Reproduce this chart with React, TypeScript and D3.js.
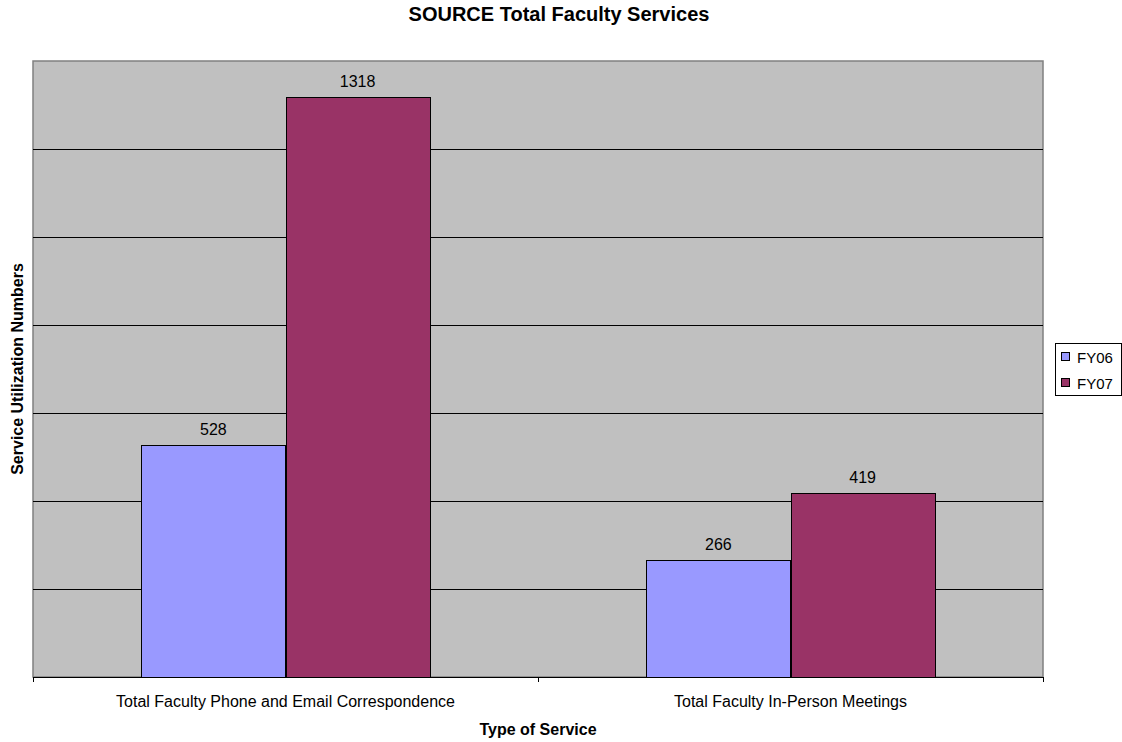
import React from "react";
import * as d3 from "d3";

const categories = ["Total Faculty Phone and Email Correspondence", "Total Faculty In-Person Meetings"];
const seriesNames = ["FY06", "FY07"];
const fy06 = [528, 266];
const fy07 = [1318, 419];
const yTicks = [0, 200, 400, 600, 800, 1000, 1200, 1400];
const colors = ["#9999FF", "#993366"];

const W = 1122, H = 742;
const left = 33, right = 1043, top = 61, bottom = 677;
const font = "Liberation Sans, Arial, sans-serif";

export default function App() {
  const x0 = d3.scaleBand<string>().domain(categories).range([left, right]).padding(0);
  const step = x0.bandwidth();
  const gap = step * 0.2145;
  const x1 = d3.scaleBand<string>().domain(seriesNames).range([gap, step - gap]).padding(0);
  const y = d3.scaleLinear().domain([0, 1400]).range([bottom, top]);
  const values = [fy06, fy07];
  return (
    <svg width={W} height={H} style={{ position: "absolute", left: 0, top: 0 }} fontFamily={font}>
      <rect x={0} y={0} width={W} height={H} fill="#fff" />
      <text x={559} y={21} textAnchor="middle" fontSize={20} fontWeight="bold">SOURCE Total Faculty Services</text>
      <rect x={left} y={top} width={right - left} height={bottom - top} fill="#C0C0C0" stroke="#808080" strokeWidth={1.5} />
      {yTicks.filter(t => t > 0 && t < 1400).map(t => (
        <line key={t} x1={left} x2={right} y1={Math.round(y(t)) + 0.5} y2={Math.round(y(t)) + 0.5} stroke="#000" />
      ))}
      {categories.map((c, ci) => seriesNames.map((s, si) => {
        const v = values[si][ci];
        const bx = (x0(c) as number) + (x1(s) as number);
        const bw = x1.bandwidth();
        return (
          <g key={c + s}>
            <rect x={Math.round(bx) + 0.5} y={Math.round(y(v)) + 0.5} width={Math.round(bw)} height={Math.round(bottom - y(v))} fill={colors[si]} stroke="#000" strokeWidth={1} />
            <text x={bx + bw / 2} y={y(v) - 10} textAnchor="middle" fontSize={16}>{v}</text>
          </g>
        );
      }))}
      <line x1={left} x2={right} y1={bottom + 0.5} y2={bottom + 0.5} stroke="#000" />
      {[0, 1, 2].map(i => {
        const tx = Math.round(left + step * i) + 0.5;
        return <line key={i} x1={tx} x2={tx} y1={bottom} y2={bottom + 5} stroke="#000" />;
      })}
      {categories.map(c => (
        <text key={c} x={(x0(c) as number) + step / 2} y={707} textAnchor="middle" fontSize={16}>{c}</text>
      ))}
      <text x={538} y={735} textAnchor="middle" fontSize={16} fontWeight="bold">Type of Service</text>
      <text transform={`translate(22.5,${(top + bottom) / 2}) rotate(-90)`} textAnchor="middle" fontSize={16} fontWeight="bold">Service Utilization Numbers</text>
      <rect x={1055.5} y={343.5} width={66} height={52} fill="#fff" stroke="#000" />
      {seriesNames.map((s, i) => (
        <g key={s}>
          <rect x={1061.5} y={352.5 + i * 26} width={8} height={8} fill={colors[i]} stroke="#000" />
          <text x={1077} y={363 + i * 26} fontSize={15}>{s}</text>
        </g>
      ))}
    </svg>
  );
}
